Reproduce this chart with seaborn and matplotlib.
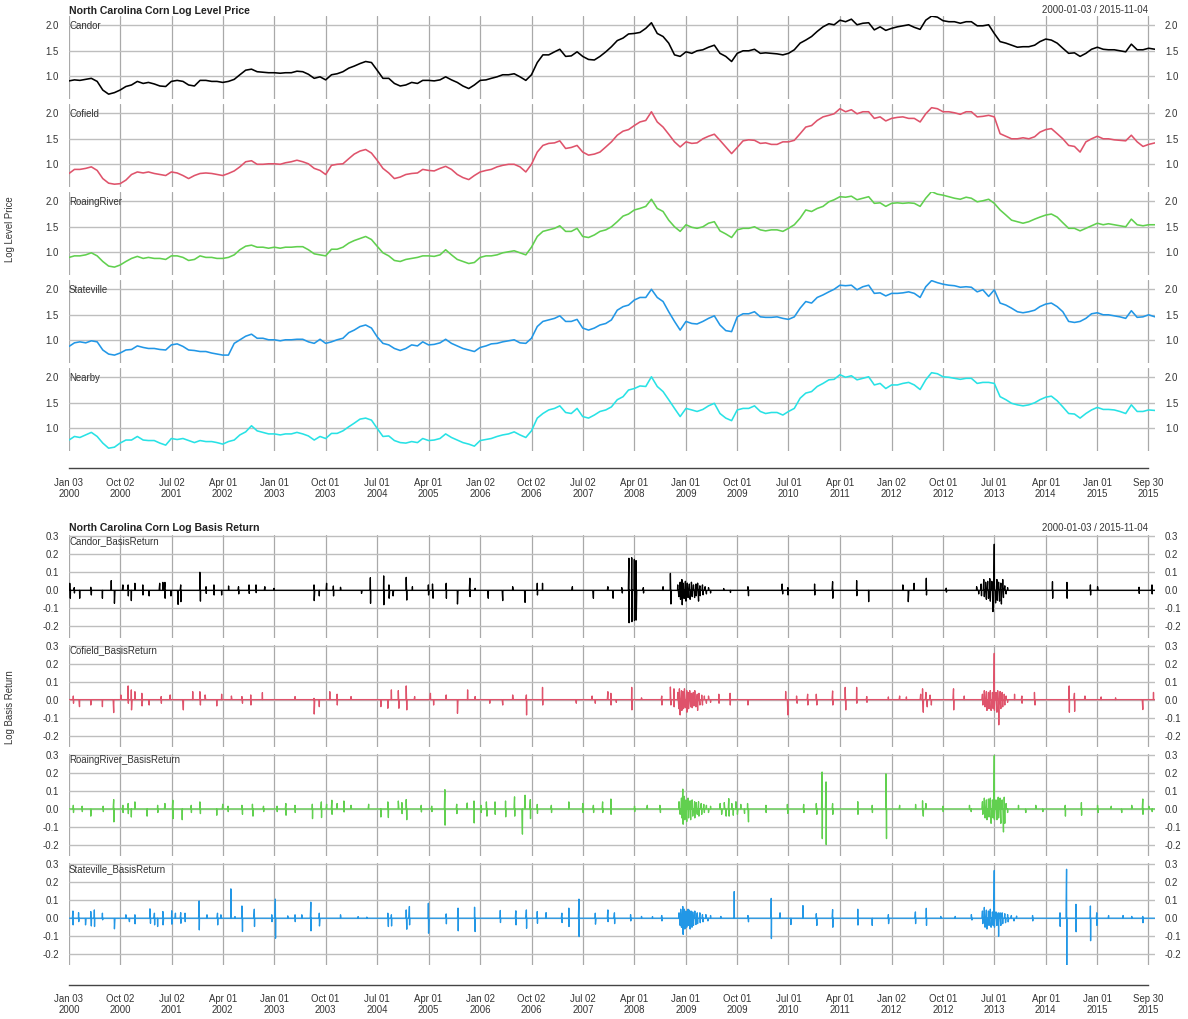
import numpy as np
import pandas as pd
import matplotlib
matplotlib.use("Agg")
import matplotlib.pyplot as plt
import matplotlib.dates as mdates
import seaborn as sns

sns.set_style("white")
plt.rcParams['font.family'] = ['Liberation Sans', 'DejaVu Sans']

# ---------------------------------------------------------------- data
top_title = "North Carolina Corn Log Level Price"
bottom_title = "North Carolina Corn Log Basis Return"
range_text = "2000-01-03 / 2015-11-04"
top_ylabel = "Log Level Price"
bottom_ylabel = "Log Basis Return"

level_names = ["Candor", "Cofield", "RoaingRiver", "Stateville", "Nearby"]
return_names = ["Candor_BasisReturn", "Cofield_BasisReturn",
                "RoaingRiver_BasisReturn", "Stateville_BasisReturn"]
series_colors = ["black", "#DF536B", "#61D04F", "#2297E6", "#28E2E5"]

# monthly observations (first trading day 2000-01-03 ... 2015-10, then 2015-11-04)
level_dates = (["2000-01-03"]
               + [d.strftime("%Y-%m-%d") for d in pd.date_range("2000-02-01", "2015-10-01", freq="MS")]
               + ["2015-11-04"])

candor = [
    0.91, 0.93, 0.92, 0.94, 0.96, 0.90, 0.73, 0.65, 0.68, 0.73, 0.80, 0.83,
    0.90, 0.86, 0.88, 0.85, 0.81, 0.80, 0.90, 0.92, 0.90, 0.83, 0.81, 0.92,
    0.92, 0.90, 0.90, 0.88, 0.90, 0.94, 1.03, 1.12, 1.14, 1.09, 1.08, 1.07,
    1.07, 1.06, 1.07, 1.07, 1.10, 1.09, 1.04, 0.96, 0.99, 0.93, 1.03, 1.05,
    1.09, 1.16, 1.20, 1.25, 1.29, 1.27, 1.12, 0.96, 0.96, 0.86, 0.81, 0.83,
    0.88, 0.86, 0.92, 0.92, 0.91, 0.93, 0.99, 0.93, 0.88, 0.81, 0.76, 0.83,
    0.92, 0.93, 0.96, 0.99, 1.03, 1.03, 1.05, 0.99, 0.92, 1.03, 1.27, 1.42,
    1.42, 1.48, 1.53, 1.39, 1.40, 1.48, 1.39, 1.33, 1.32, 1.39, 1.48, 1.58,
    1.70, 1.75, 1.83, 1.84, 1.86, 1.94, 2.05, 1.84, 1.78, 1.65, 1.42, 1.39,
    1.48, 1.45, 1.50, 1.52, 1.57, 1.61, 1.45, 1.39, 1.29, 1.45, 1.50, 1.50,
    1.53, 1.45, 1.46, 1.45, 1.44, 1.42, 1.45, 1.52, 1.65, 1.71, 1.78, 1.88,
    1.97, 2.03, 2.01, 2.10, 2.07, 2.12, 2.01, 2.04, 2.05, 1.91, 1.97, 1.90,
    1.94, 1.97, 1.99, 2.01, 1.96, 1.92, 2.10, 2.18, 2.16, 2.09, 2.07, 2.07,
    2.04, 2.07, 2.07, 1.99, 1.99, 2.01, 1.84, 1.68, 1.65, 1.61, 1.57, 1.58,
    1.58, 1.61, 1.68, 1.73, 1.71, 1.65, 1.55, 1.45, 1.46, 1.39, 1.45, 1.53,
    1.57, 1.53, 1.52, 1.52, 1.50, 1.48, 1.63, 1.52, 1.52, 1.55, 1.53]

cofield = [
    0.82, 0.90, 0.90, 0.92, 0.95, 0.88, 0.72, 0.63, 0.61, 0.62, 0.69, 0.80,
    0.85, 0.83, 0.85, 0.82, 0.80, 0.78, 0.85, 0.83, 0.78, 0.72, 0.78, 0.82,
    0.83, 0.82, 0.80, 0.78, 0.82, 0.87, 0.95, 1.05, 1.07, 1.00, 1.00, 1.01,
    1.01, 1.00, 1.03, 1.05, 1.08, 1.05, 1.01, 0.92, 0.88, 0.80, 0.98, 1.00,
    1.01, 1.11, 1.20, 1.26, 1.29, 1.22, 1.08, 0.92, 0.83, 0.72, 0.75, 0.80,
    0.82, 0.83, 0.90, 0.88, 0.87, 0.92, 0.96, 0.90, 0.80, 0.74, 0.70, 0.78,
    0.85, 0.88, 0.90, 0.95, 0.98, 1.00, 1.00, 0.95, 0.85, 1.00, 1.24, 1.37,
    1.41, 1.42, 1.46, 1.31, 1.33, 1.37, 1.24, 1.18, 1.20, 1.24, 1.34, 1.44,
    1.57, 1.65, 1.68, 1.76, 1.83, 1.86, 2.03, 1.83, 1.73, 1.59, 1.44, 1.34,
    1.44, 1.41, 1.42, 1.50, 1.55, 1.59, 1.47, 1.34, 1.21, 1.33, 1.46, 1.48,
    1.47, 1.41, 1.42, 1.39, 1.39, 1.44, 1.44, 1.47, 1.60, 1.73, 1.76, 1.86,
    1.93, 1.96, 1.99, 2.09, 2.03, 2.07, 1.99, 2.03, 2.03, 1.90, 1.93, 1.85,
    1.90, 1.92, 1.93, 1.90, 1.90, 1.83, 1.99, 2.11, 2.09, 2.03, 2.03, 2.01,
    1.98, 2.03, 2.03, 1.93, 1.94, 1.96, 1.93, 1.60, 1.55, 1.50, 1.50, 1.52,
    1.50, 1.54, 1.63, 1.68, 1.70, 1.60, 1.50, 1.37, 1.35, 1.24, 1.44, 1.50,
    1.55, 1.50, 1.50, 1.48, 1.47, 1.46, 1.57, 1.44, 1.35, 1.39, 1.42]

roaingriver = [
    0.90, 0.93, 0.93, 0.95, 0.99, 0.93, 0.82, 0.73, 0.71, 0.75, 0.82, 0.88,
    0.92, 0.88, 0.90, 0.88, 0.88, 0.86, 0.93, 0.93, 0.90, 0.84, 0.86, 0.93,
    0.90, 0.90, 0.88, 0.88, 0.90, 0.95, 1.05, 1.12, 1.14, 1.10, 1.10, 1.08,
    1.10, 1.08, 1.10, 1.10, 1.11, 1.11, 1.05, 0.97, 0.95, 0.93, 1.06, 1.06,
    1.10, 1.18, 1.23, 1.27, 1.31, 1.25, 1.12, 0.99, 0.93, 0.84, 0.82, 0.86,
    0.88, 0.90, 0.93, 0.93, 0.92, 0.95, 1.05, 0.95, 0.86, 0.82, 0.78, 0.80,
    0.90, 0.93, 0.93, 0.95, 0.99, 1.01, 1.03, 0.99, 0.95, 1.10, 1.31, 1.41,
    1.44, 1.47, 1.52, 1.41, 1.41, 1.47, 1.31, 1.29, 1.34, 1.41, 1.44, 1.50,
    1.60, 1.71, 1.75, 1.83, 1.86, 1.90, 2.04, 1.86, 1.80, 1.63, 1.50, 1.41,
    1.54, 1.49, 1.47, 1.50, 1.57, 1.60, 1.42, 1.36, 1.29, 1.44, 1.47, 1.47,
    1.50, 1.44, 1.42, 1.44, 1.44, 1.41, 1.47, 1.54, 1.67, 1.83, 1.80, 1.86,
    1.90, 1.99, 2.03, 2.09, 2.08, 2.10, 2.03, 2.06, 2.09, 1.96, 1.97, 1.90,
    1.96, 1.97, 1.96, 1.97, 1.96, 1.90, 2.06, 2.19, 2.14, 2.12, 2.09, 2.06,
    2.04, 2.08, 2.06, 1.99, 2.01, 2.04, 1.96, 1.83, 1.73, 1.63, 1.60, 1.57,
    1.60, 1.65, 1.69, 1.73, 1.75, 1.69, 1.58, 1.47, 1.47, 1.42, 1.47, 1.52,
    1.57, 1.54, 1.56, 1.54, 1.52, 1.50, 1.65, 1.54, 1.52, 1.54, 1.54]

stateville = [
    0.88, 0.95, 0.97, 0.95, 0.99, 0.97, 0.81, 0.73, 0.71, 0.75, 0.81, 0.82,
    0.89, 0.86, 0.84, 0.84, 0.82, 0.81, 0.91, 0.93, 0.88, 0.81, 0.80, 0.78,
    0.78, 0.75, 0.73, 0.71, 0.71, 0.94, 1.01, 1.08, 1.12, 1.04, 1.04, 1.01,
    1.01, 0.99, 1.01, 1.01, 1.02, 1.02, 0.97, 0.94, 1.02, 0.94, 0.97, 1.01,
    1.04, 1.15, 1.20, 1.27, 1.30, 1.24, 1.07, 0.94, 0.91, 0.84, 0.80, 0.84,
    0.91, 0.89, 0.97, 0.91, 0.92, 0.95, 1.02, 0.94, 0.89, 0.84, 0.81, 0.78,
    0.86, 0.89, 0.93, 0.94, 0.97, 0.99, 1.01, 0.95, 0.94, 1.04, 1.27, 1.37,
    1.40, 1.43, 1.48, 1.37, 1.37, 1.41, 1.24, 1.20, 1.24, 1.30, 1.33, 1.40,
    1.59, 1.66, 1.69, 1.79, 1.84, 1.84, 2.00, 1.84, 1.76, 1.56, 1.37, 1.20,
    1.37, 1.33, 1.32, 1.37, 1.43, 1.48, 1.30, 1.19, 1.17, 1.46, 1.52, 1.52,
    1.56, 1.46, 1.45, 1.45, 1.46, 1.43, 1.41, 1.46, 1.63, 1.76, 1.73, 1.84,
    1.89, 1.95, 2.00, 2.08, 2.07, 2.08, 1.99, 2.05, 2.08, 1.92, 1.93, 1.87,
    1.92, 1.92, 1.93, 1.95, 1.92, 1.84, 2.05, 2.17, 2.13, 2.10, 2.08, 2.07,
    2.04, 2.05, 2.04, 1.95, 1.99, 1.86, 1.99, 1.73, 1.69, 1.63, 1.56, 1.54,
    1.56, 1.59, 1.66, 1.71, 1.73, 1.66, 1.56, 1.37, 1.35, 1.37, 1.43, 1.52,
    1.54, 1.50, 1.50, 1.48, 1.46, 1.43, 1.58, 1.45, 1.46, 1.50, 1.46]

nearby = [
    0.77, 0.84, 0.82, 0.87, 0.92, 0.84, 0.71, 0.61, 0.63, 0.71, 0.77, 0.77,
    0.84, 0.77, 0.76, 0.76, 0.71, 0.67, 0.80, 0.78, 0.80, 0.76, 0.72, 0.76,
    0.74, 0.74, 0.72, 0.69, 0.74, 0.77, 0.87, 0.93, 1.05, 0.95, 0.92, 0.89,
    0.89, 0.87, 0.89, 0.89, 0.92, 0.89, 0.85, 0.77, 0.84, 0.80, 0.90, 0.90,
    0.95, 1.03, 1.10, 1.18, 1.20, 1.16, 1.00, 0.84, 0.85, 0.76, 0.72, 0.71,
    0.74, 0.72, 0.80, 0.76, 0.77, 0.80, 0.89, 0.82, 0.77, 0.72, 0.69, 0.65,
    0.76, 0.78, 0.80, 0.84, 0.87, 0.89, 0.93, 0.87, 0.82, 0.95, 1.20, 1.29,
    1.36, 1.39, 1.44, 1.31, 1.29, 1.39, 1.23, 1.20, 1.26, 1.33, 1.36, 1.42,
    1.56, 1.62, 1.75, 1.78, 1.83, 1.82, 2.01, 1.82, 1.72, 1.56, 1.39, 1.23,
    1.39, 1.36, 1.33, 1.37, 1.44, 1.49, 1.29, 1.20, 1.15, 1.36, 1.39, 1.39,
    1.44, 1.33, 1.29, 1.31, 1.31, 1.26, 1.33, 1.39, 1.59, 1.69, 1.72, 1.82,
    1.88, 1.95, 1.96, 2.05, 2.00, 2.03, 1.95, 1.98, 2.01, 1.85, 1.88, 1.78,
    1.85, 1.85, 1.88, 1.90, 1.85, 1.76, 1.95, 2.09, 2.07, 2.01, 2.00, 1.98,
    1.96, 1.98, 1.98, 1.88, 1.90, 1.90, 1.88, 1.62, 1.56, 1.49, 1.46, 1.44,
    1.46, 1.50, 1.56, 1.61, 1.63, 1.54, 1.42, 1.29, 1.28, 1.20, 1.29, 1.36,
    1.41, 1.37, 1.37, 1.36, 1.33, 1.29, 1.46, 1.33, 1.33, 1.36, 1.35]

# basis returns: zero on ordinary days; non-zero days given as (decimal year, return)
candor_ret = [
    (2000.015, 0.039), (2000.015, -0.044), (2000.077, 0.015), (2000.077, -0.015),
    (2000.159, -0.044), (2000.323, 0.017), (2000.323, -0.026), (2000.492, -0.044),
    (2000.620, 0.054), (2000.666, -0.072), (2000.784, 0.030), (2000.861, 0.030),
    (2000.861, -0.031), (2000.912, -0.057), (2000.964, 0.039), (2001.081, 0.030),
    (2001.081, -0.026), (2001.168, -0.031), (2001.322, 0.039), (2001.373, 0.044),
    (2001.399, 0.044), (2001.399, -0.044), (2001.491, -0.031), (2001.589, -0.078),
    (2001.630, 0.030), (2001.630, -0.063), (2001.912, 0.100), (2001.912, -0.060),
    (2002.004, 0.020), (2002.004, -0.017), (2002.117, 0.030), (2002.117, -0.026),
    (2002.229, -0.026), (2002.332, 0.024), (2002.475, 0.020), (2002.475, -0.020),
    (2002.629, 0.030), (2002.629, -0.017), (2002.732, 0.030), (2002.732, -0.013),
    (2002.860, 0.020), (2002.988, 0.011), (2003.577, 0.030), (2003.577, -0.057),
    (2003.654, -0.031), (2003.757, 0.039), (2003.859, 0.024), (2003.859, -0.031),
    (2003.962, 0.017), (2004.269, -0.017), (2004.397, 0.070), (2004.397, -0.072),
    (2004.592, 0.080), (2004.592, -0.080), (2004.669, 0.030), (2004.669, -0.044),
    (2004.730, -0.031), (2004.920, 0.072), (2004.920, -0.054), (2005.012, 0.020),
    (2005.243, 0.030), (2005.243, -0.026), (2005.304, 0.035), (2005.304, -0.044),
    (2005.499, 0.039), (2005.499, -0.044), (2005.668, -0.076), (2005.848, 0.067),
    (2005.848, -0.035), (2005.924, 0.011), (2006.114, -0.044), (2006.329, -0.057),
    (2006.473, 0.020), (2006.652, -0.067), (2006.832, 0.039), (2006.832, -0.026),
    (2006.908, 0.039), (2007.344, 0.020), (2007.652, -0.044), (2007.857, 0.020),
    (2007.932, -0.044), (2008.063, 0.015), (2008.063, -0.015),
    (2008.168, 0.178), (2008.168, -0.180), (2008.210, 0.181), (2008.210, -0.174),
    (2008.247, 0.172), (2008.247, -0.168), (2008.273, 0.165), (2008.273, -0.165),
    (2008.378, 0.015), (2008.378, -0.015), (2008.668, 0.020),
    (2008.773, 0.094), (2008.773, -0.076),
    (2008.88, 0.030), (2008.89, -0.035), (2008.91, 0.045), (2008.92, -0.050),
    (2008.94, 0.060), (2008.945, -0.080), (2008.96, 0.040), (2008.97, -0.045),
    (2008.99, 0.050), (2009.00, -0.060), (2009.02, 0.040), (2009.03, -0.040),
    (2009.05, 0.035), (2009.06, -0.050), (2009.08, 0.045), (2009.09, -0.035),
    (2009.11, 0.030), (2009.12, -0.040), (2009.14, 0.035), (2009.15, -0.030),
    (2009.17, 0.040), (2009.18, -0.060), (2009.20, 0.025), (2009.21, -0.030),
    (2009.24, 0.030), (2009.25, -0.025), (2009.28, 0.020), (2009.30, -0.020),
    (2009.33, 0.015), (2009.36, -0.015),
    (2009.55, 0.010), (2009.65, -0.012), (2009.903, 0.020), (2009.903, -0.030),
    (2010.402, 0.035), (2010.402, -0.020), (2010.481, 0.015), (2010.481, -0.026),
    (2010.875, 0.035), (2010.875, -0.026), (2011.138, 0.048), (2011.138, -0.044),
    (2011.490, 0.054), (2011.490, -0.030), (2011.664, -0.063), (2012.163, 0.030),
    (2012.242, -0.063), (2012.321, 0.039), (2012.505, 0.067), (2012.505, -0.026),
    (2012.794, 0.012), (2012.794, -0.010),
    (2013.24, 0.020), (2013.27, -0.020), (2013.30, 0.035), (2013.31, -0.030),
    (2013.34, 0.060), (2013.35, -0.035), (2013.37, 0.045), (2013.38, -0.050),
    (2013.40, 0.050), (2013.41, -0.045), (2013.43, 0.065), (2013.44, -0.060),
    (2013.46, 0.050), (2013.478, -0.118), (2013.494, 0.256), (2013.51, -0.070),
    (2013.53, 0.060), (2013.54, -0.055), (2013.56, 0.045), (2013.57, -0.060),
    (2013.59, 0.040), (2013.60, -0.076), (2013.62, 0.060), (2013.63, -0.040),
    (2013.65, 0.025), (2013.67, -0.020), (2013.69, 0.015),
    (2014.345, 0.048), (2014.345, -0.044), (2014.555, 0.044), (2014.555, -0.044),
    (2014.897, 0.030), (2014.897, -0.026), (2015.002, 0.020),
    (2015.607, 0.017), (2015.607, -0.017), (2015.791, 0.030), (2015.791, -0.020)]

cofield_ret = [
    (2000.067, 0.020), (2000.067, -0.020), (2000.154, -0.039), (2000.323, -0.030),
    (2000.492, -0.039), (2000.656, -0.072), (2000.759, 0.026), (2000.861, 0.076),
    (2000.861, -0.020), (2000.912, 0.054), (2000.912, -0.057), (2000.964, 0.044),
    (2001.066, 0.035), (2001.066, -0.035), (2001.168, -0.030), (2001.348, 0.017),
    (2001.348, -0.020), (2001.476, 0.026), (2001.671, -0.057), (2001.809, 0.044),
    (2001.912, 0.044), (2001.912, -0.030), (2001.989, 0.026), (2002.158, -0.035),
    (2002.229, 0.030), (2002.373, 0.020), (2002.527, 0.017), (2002.527, -0.020),
    (2002.655, 0.026), (2002.655, -0.030), (2002.824, 0.039), (2003.295, 0.017),
    (2003.577, 0.007), (2003.577, -0.080), (2003.654, -0.039), (2003.808, 0.044),
    (2003.910, 0.030), (2003.910, -0.030), (2004.115, 0.017), (2004.551, -0.039),
    (2004.653, -0.048), (2004.705, 0.054), (2004.807, 0.050), (2004.807, -0.048),
    (2004.920, 0.076), (2004.920, -0.057), (2005.038, 0.017), (2005.269, 0.035),
    (2005.320, -0.030), (2005.499, 0.026), (2005.668, -0.076), (2005.817, 0.054),
    (2005.924, 0.017), (2006.140, -0.020), (2006.329, -0.030), (2006.473, 0.026),
    (2006.668, 0.026), (2006.668, -0.085), (2006.908, 0.068), (2006.908, -0.030),
    (2007.395, -0.020), (2007.626, 0.020), (2007.677, -0.020), (2007.857, 0.044),
    (2007.905, 0.035), (2007.905, -0.030), (2007.984, -0.015),
    (2008.210, 0.068), (2008.210, -0.057), (2008.352, 0.010),
    (2008.641, 0.020), (2008.641, -0.030), (2008.773, 0.070), (2008.773, -0.030),
    (2008.825, 0.060), (2008.825, -0.040),
    (2008.88, 0.040), (2008.89, -0.050), (2008.905, 0.060), (2008.915, -0.085),
    (2008.93, 0.050), (2008.94, -0.060), (2008.955, 0.045), (2008.965, -0.050),
    (2008.98, 0.060), (2008.99, -0.045), (2009.005, 0.050), (2009.015, -0.070),
    (2009.03, 0.040), (2009.04, -0.050), (2009.055, 0.050), (2009.065, -0.040),
    (2009.08, 0.035), (2009.09, -0.045), (2009.105, 0.040), (2009.115, -0.035),
    (2009.13, 0.050), (2009.14, -0.040), (2009.16, 0.030), (2009.17, -0.060),
    (2009.19, 0.035), (2009.20, -0.030), (2009.23, 0.025), (2009.24, -0.030),
    (2009.27, 0.020), (2009.30, -0.020), (2009.33, 0.020), (2009.36, -0.015),
    (2009.48, 0.030), (2009.48, -0.020), (2009.64, 0.035), (2009.64, -0.030),
    (2009.903, -0.030), (2010.455, 0.045), (2010.481, -0.085),
    (2010.613, 0.020), (2010.613, -0.020), (2010.77, 0.030), (2010.77, -0.030),
    (2010.902, 0.030), (2010.902, -0.030), (2011.138, 0.048), (2011.138, -0.030),
    (2011.322, 0.068), (2011.322, -0.057), (2011.490, 0.068), (2011.490, -0.020),
    (2011.638, 0.017), (2011.638, -0.015), (2011.953, 0.015), (2012.111, 0.020),
    (2012.216, 0.015), (2012.42, 0.030), (2012.45, 0.060), (2012.46, -0.070),
    (2012.50, 0.040), (2012.52, -0.040), (2012.56, 0.025), (2012.58, -0.030),
    (2012.90, 0.060), (2012.90, -0.057), (2013.057, 0.020),
    (2013.32, 0.030), (2013.33, -0.030), (2013.35, 0.050), (2013.36, -0.040),
    (2013.38, 0.045), (2013.39, -0.060), (2013.41, 0.040), (2013.42, -0.050),
    (2013.44, 0.050), (2013.45, -0.060), (2013.47, 0.040), (2013.48, -0.050),
    (2013.494, 0.257), (2013.50, -0.060), (2013.52, 0.040), (2013.53, -0.070),
    (2013.545, 0.050), (2013.562, -0.140), (2013.58, 0.045), (2013.59, -0.050),
    (2013.61, 0.040), (2013.62, -0.040), (2013.64, 0.030), (2013.65, -0.030),
    (2013.67, 0.020), (2013.69, -0.015),
    (2013.793, 0.030), (2013.898, 0.020), (2013.898, -0.020), (2014.082, 0.040),
    (2014.082, -0.030), (2014.582, 0.076), (2014.582, -0.070), (2014.66, 0.035),
    (2014.66, -0.065), (2014.818, 0.020), (2015.055, 0.015), (2015.265, 0.010),
    (2015.659, -0.055), (2015.817, 0.040)]

roaingriver_ret = [
    (2000.067, 0.020), (2000.067, -0.020), (2000.195, 0.015), (2000.195, -0.015),
    (2000.323, -0.040), (2000.502, 0.015), (2000.502, -0.015), (2000.656, 0.052),
    (2000.656, -0.072), (2000.784, 0.020), (2000.784, -0.020), (2000.861, 0.030),
    (2000.861, -0.026), (2000.912, -0.045), (2000.964, 0.039), (2001.143, -0.040),
    (2001.297, 0.020), (2001.297, -0.020), (2001.399, 0.030), (2001.512, 0.048),
    (2001.512, -0.054), (2001.655, -0.060), (2001.784, 0.020), (2001.784, -0.020),
    (2001.912, 0.039), (2001.912, -0.026), (2002.158, -0.035), (2002.245, 0.026),
    (2002.322, 0.015), (2002.322, -0.015), (2002.527, 0.020), (2002.527, -0.030),
    (2002.680, 0.026), (2002.680, -0.040), (2002.834, 0.015), (2002.834, -0.015),
    (2003.039, 0.015), (2003.039, -0.015), (2003.167, 0.030), (2003.167, -0.035),
    (2003.295, 0.020), (2003.295, -0.020), (2003.552, 0.026), (2003.552, -0.054),
    (2003.680, 0.039), (2003.680, -0.048), (2003.757, 0.026), (2003.834, 0.048),
    (2003.834, -0.030), (2003.910, 0.030), (2004.013, 0.044), (2004.013, -0.017),
    (2004.115, 0.020), (2004.372, 0.026), (2004.551, -0.045), (2004.653, 0.039),
    (2004.653, -0.048), (2004.807, 0.044), (2004.859, 0.035), (2004.859, -0.026),
    (2004.920, 0.052), (2004.920, -0.060), (2005.140, 0.020), (2005.140, -0.017),
    (2005.294, 0.015), (2005.294, -0.015), (2005.484, 0.107), (2005.484, -0.090),
    (2005.653, 0.026), (2005.653, -0.026), (2005.807, 0.033), (2005.909, 0.044),
    (2005.909, -0.078), (2006.012, 0.020), (2006.012, -0.020), (2006.089, 0.039),
    (2006.089, -0.040), (2006.217, 0.039), (2006.217, -0.030), (2006.370, 0.044),
    (2006.370, -0.044), (2006.499, 0.067), (2006.499, -0.040), (2006.617, -0.140),
    (2006.652, 0.076), (2006.729, 0.052), (2006.729, -0.054), (2006.832, 0.025),
    (2006.832, -0.025), (2007.037, 0.020), (2007.037, -0.020), (2007.293, 0.039),
    (2007.498, 0.030), (2007.498, -0.020), (2007.652, 0.020), (2007.652, -0.020),
    (2007.780, 0.039), (2007.780, -0.020), (2007.905, 0.055), (2007.905, -0.030),
    (2008.25, 0.015), (2008.25, -0.015), (2008.43, 0.020), (2008.62, 0.020),
    (2008.62, -0.020),
    (2008.90, 0.040), (2008.91, -0.030), (2008.93, 0.060), (2008.94, -0.050),
    (2008.95, 0.110), (2008.96, -0.085), (2008.975, 0.070), (2008.985, -0.060),
    (2009.00, 0.050), (2009.01, -0.070), (2009.03, 0.060), (2009.04, -0.050),
    (2009.06, 0.045), (2009.07, -0.060), (2009.09, 0.050), (2009.10, -0.040),
    (2009.12, 0.040), (2009.13, -0.050), (2009.15, 0.035), (2009.16, -0.030),
    (2009.18, 0.040), (2009.19, -0.040), (2009.22, 0.030), (2009.23, -0.030),
    (2009.26, 0.025), (2009.27, -0.020), (2009.30, 0.020), (2009.33, -0.020),
    (2009.36, 0.015),
    (2009.50, 0.030), (2009.52, -0.030), (2009.56, 0.035), (2009.58, -0.040),
    (2009.62, 0.057), (2009.63, -0.040), (2009.67, 0.030), (2009.69, -0.035),
    (2009.73, 0.040), (2009.75, -0.030), (2009.80, 0.025), (2009.85, -0.025),
    (2009.90, 0.030), (2009.91, -0.072),
    (2010.166, 0.020), (2010.166, -0.020), (2010.48, 0.025), (2010.48, -0.025),
    (2010.718, 0.025), (2010.718, -0.020), (2010.902, 0.030), (2010.902, -0.030),
    (2010.981, 0.205), (2010.981, -0.165), (2011.044, 0.150), (2011.044, -0.198),
    (2011.138, 0.030), (2011.138, -0.030), (2011.506, 0.040), (2011.506, -0.030),
    (2011.716, 0.020), (2011.716, -0.020), (2011.916, 0.195), (2011.916, -0.165),
    (2012.111, 0.020), (2012.35, 0.025), (2012.45, 0.045), (2012.46, -0.040),
    (2012.50, 0.030), (2012.742, 0.015), (2012.742, -0.015), (2013.136, 0.020),
    (2013.16, -0.015),
    (2013.32, 0.040), (2013.33, -0.030), (2013.35, 0.060), (2013.36, -0.050),
    (2013.38, 0.050), (2013.39, -0.060), (2013.41, 0.055), (2013.42, -0.045),
    (2013.44, 0.060), (2013.45, -0.080), (2013.47, 0.050), (2013.48, -0.050),
    (2013.494, 0.296), (2013.50, -0.060), (2013.52, 0.050), (2013.53, -0.060),
    (2013.55, 0.065), (2013.56, -0.050), (2013.58, 0.060), (2013.59, -0.080),
    (2013.61, 0.050), (2013.625, -0.128), (2013.64, 0.065), (2013.65, -0.080),
    (2013.67, 0.030), (2013.69, -0.020),
    (2013.85, 0.020), (2013.95, -0.020), (2014.10, 0.020), (2014.20, -0.015),
    (2014.53, 0.020), (2014.53, -0.040), (2014.767, 0.035), (2014.767, -0.035),
    (2015.002, 0.020), (2015.002, -0.020), (2015.20, 0.015), (2015.35, -0.020),
    (2015.50, 0.020), (2015.659, 0.055), (2015.659, -0.030), (2015.75, 0.015),
    (2015.80, -0.015)]

stateville_ret = [
    (2000.056, 0.040), (2000.056, -0.037), (2000.144, 0.031), (2000.144, -0.019),
    (2000.246, -0.037), (2000.323, 0.037), (2000.323, -0.043), (2000.374, 0.046),
    (2000.374, -0.046), (2000.492, 0.028), (2000.492, -0.009), (2000.666, -0.059),
    (2000.835, 0.019), (2000.887, -0.019), (2000.964, 0.019), (2000.964, -0.031),
    (2001.184, 0.052), (2001.184, -0.028), (2001.245, 0.028), (2001.245, -0.037),
    (2001.297, -0.046), (2001.373, 0.037), (2001.373, -0.037), (2001.502, 0.041),
    (2001.502, -0.033), (2001.553, 0.028), (2001.630, 0.031), (2001.630, -0.028),
    (2001.696, 0.028), (2001.696, -0.019), (2001.901, 0.096), (2001.901, -0.065),
    (2002.014, 0.019), (2002.168, 0.028), (2002.168, -0.037), (2002.219, 0.019),
    (2002.363, 0.163), (2002.424, 0.009), (2002.527, 0.068), (2002.527, -0.074),
    (2002.706, 0.050), (2002.706, -0.046), (2002.962, 0.019), (2002.962, -0.019),
    (2003.013, 0.106), (2003.013, -0.111), (2003.193, 0.013), (2003.295, 0.019),
    (2003.295, -0.019), (2003.398, 0.019), (2003.526, 0.089), (2003.526, -0.070),
    (2003.654, 0.028), (2003.654, -0.043), (2003.962, 0.019), (2004.218, 0.009),
    (2004.346, 0.006), (2004.653, 0.028), (2004.653, -0.046), (2004.705, 0.019),
    (2004.705, -0.043), (2004.920, 0.046), (2004.920, -0.061), (2004.961, 0.065),
    (2004.961, -0.037), (2005.243, 0.083), (2005.243, -0.083), (2005.499, 0.024),
    (2005.499, -0.031), (2005.678, 0.056), (2005.678, -0.070), (2005.919, 0.061),
    (2005.919, -0.074), (2006.293, 0.043), (2006.293, -0.024), (2006.514, 0.041),
    (2006.514, -0.037), (2006.668, 0.046), (2006.668, -0.056), (2006.832, 0.037),
    (2006.832, -0.028), (2006.960, 0.031), (2007.190, 0.028), (2007.190, -0.024),
    (2007.293, 0.056), (2007.293, -0.046), (2007.436, 0.106), (2007.436, -0.102),
    (2007.677, 0.028), (2007.677, -0.033), (2007.857, 0.046), (2007.857, -0.019),
    (2007.958, 0.030), (2007.958, -0.030), (2008.194, 0.020), (2008.194, -0.015),
    (2008.352, 0.010), (2008.510, 0.009), (2008.641, 0.015), (2008.641, -0.015),
    (2008.90, 0.030), (2008.91, -0.040), (2008.925, 0.050), (2008.935, -0.050),
    (2008.95, 0.065), (2008.96, -0.090), (2008.975, 0.050), (2008.985, -0.060),
    (2009.00, 0.040), (2009.01, -0.050), (2009.025, 0.050), (2009.035, -0.040),
    (2009.05, 0.045), (2009.06, -0.060), (2009.075, 0.040), (2009.085, -0.050),
    (2009.10, 0.035), (2009.11, -0.040), (2009.13, 0.040), (2009.14, -0.035),
    (2009.16, 0.030), (2009.17, -0.030), (2009.20, 0.030), (2009.21, -0.025),
    (2009.24, 0.020), (2009.25, -0.020), (2009.29, 0.020), (2009.32, -0.015),
    (2009.36, 0.015),
    (2009.509, 0.010), (2009.703, 0.148), (2009.903, 0.015), (2009.903, -0.020),
    (2010.245, 0.110), (2010.245, -0.113), (2010.37, 0.030), (2010.53, -0.035),
    (2010.707, 0.070), (2010.902, 0.025), (2010.902, -0.040), (2011.138, 0.048),
    (2011.138, -0.050), (2011.506, 0.050), (2011.506, -0.038), (2011.716, -0.040),
    (2011.953, 0.020), (2011.953, -0.030), (2012.347, 0.035), (2012.347, -0.030),
    (2012.505, 0.055), (2012.505, -0.040), (2012.715, 0.010), (2012.926, 0.010),
    (2013.162, 0.020), (2013.162, -0.010),
    (2013.32, 0.040), (2013.33, -0.030), (2013.35, 0.060), (2013.36, -0.050),
    (2013.38, 0.045), (2013.39, -0.060), (2013.41, 0.040), (2013.42, -0.040),
    (2013.44, 0.050), (2013.45, -0.050), (2013.47, 0.035), (2013.48, -0.040),
    (2013.494, 0.265), (2013.50, -0.050), (2013.52, 0.035), (2013.53, -0.040),
    (2013.55, 0.030), (2013.56, -0.100), (2013.58, 0.030), (2013.59, -0.040),
    (2013.61, 0.030), (2013.62, -0.030), (2013.65, 0.025), (2013.66, -0.025),
    (2013.69, 0.020), (2013.70, -0.020), (2013.74, 0.015), (2013.78, -0.015),
    (2013.82, 0.012),
    (2014.056, 0.015), (2014.056, -0.015), (2014.450, 0.030), (2014.450, -0.045),
    (2014.545, 0.272), (2014.545, -0.262), (2014.687, 0.077), (2014.687, -0.075),
    (2014.897, 0.068), (2014.897, -0.125), (2014.992, 0.030), (2014.992, -0.040),
    (2015.160, 0.015), (2015.370, 0.015), (2015.501, 0.010), (2015.659, 0.010),
    (2015.659, -0.025)]

tick_dates = ["2000-01-03", "2000-10-02", "2001-07-02", "2002-04-01", "2003-01-01",
              "2003-10-01", "2004-07-01", "2005-04-01", "2006-01-02", "2006-10-02",
              "2007-07-02", "2008-04-01", "2009-01-01", "2009-10-01", "2010-07-01",
              "2011-04-01", "2012-01-02", "2012-10-01", "2013-07-01", "2014-04-01",
              "2015-01-01", "2015-09-30"]
tick_labels = ["Jan 03\n2000", "Oct 02\n2000", "Jul 02\n2001", "Apr 01\n2002",
               "Jan 01\n2003", "Oct 01\n2003", "Jul 01\n2004", "Apr 01\n2005",
               "Jan 02\n2006", "Oct 02\n2006", "Jul 02\n2007", "Apr 01\n2008",
               "Jan 01\n2009", "Oct 01\n2009", "Jul 01\n2010", "Apr 01\n2011",
               "Jan 02\n2012", "Oct 01\n2012", "Jul 01\n2013", "Apr 01\n2014",
               "Jan 01\n2015", "Sep 30\n2015"]

level_yticks = [1.0, 1.5, 2.0]
level_ylabels = ["1.0", "1.5", "2.0"]
ret_yticks = [-0.2, -0.1, 0.0, 0.1, 0.2, 0.3]
ret_ylabels = ["-0.2", "-0.1", "0.0", "0.1", "0.2", "0.3"]

# ---------------------------------------------------------------- helpers
start, end = pd.Timestamp("2000-01-03"), pd.Timestamp("2015-11-04")
bdays = pd.bdate_range(start, end)


def returns_series(spikes):
    vals = np.zeros(len(bdays))
    used = np.zeros(len(bdays), dtype=bool)
    t0 = pd.Timestamp("2000-01-01")
    for yr, v in spikes:
        d = t0 + pd.Timedelta(days=(yr - 2000.0) * 365.25)
        i = int(np.clip(bdays.searchsorted(d), 0, len(bdays) - 1))
        while used[i] and i < len(bdays) - 1:
            i += 1
        vals[i] = v
        used[i] = True
    return vals


W, H = 1188, 1019
L, R = 69, 1155
FS = 6.9
TXT = "#333333"
HGRID = "#BEBEBE"
VGRID = "#A9A9A9"
tick_ts = pd.to_datetime(tick_dates)
tick_num = mdates.date2num(tick_ts.to_pydatetime())

fig = plt.figure(figsize=(W / 100, H / 100), dpi=100)


def make_panel(top_px, bottom_px, ylim, yticks, ylabels):
    ax = fig.add_axes([L / W, 1 - bottom_px / H, (R - L) / W, (bottom_px - top_px) / H])
    ax.set_xlim(start, end)
    ax.set_ylim(*ylim)
    for d in tick_ts:
        ax.axvline(d, color=VGRID, lw=0.9, zorder=0)
    for y in yticks:
        ax.axhline(y, color=HGRID, lw=1.0, zorder=0)
    ax.set_yticks(yticks)
    ax.set_yticklabels(ylabels)
    ax.tick_params(axis="y", length=0, labelleft=True, labelright=True,
                   labelsize=FS, labelcolor=TXT, pad=7.2)
    ax.set_xticks([])
    for s in ax.spines.values():
        s.set_visible(False)
    ax.set_facecolor("none")
    return ax


def make_xaxis(y_px):
    ax = fig.add_axes([L / W, 1 - y_px / H, (R - L) / W, 0.0001])
    ax.set_xlim(start, end)
    ax.set_yticks([])
    for k in ["top", "left", "right"]:
        ax.spines[k].set_visible(False)
    ax.spines["bottom"].set_color("#444444")
    ax.spines["bottom"].set_linewidth(1.0)
    ax.spines["bottom"].set_bounds(tick_num[0], tick_num[-1])
    ax.set_xticks(tick_num)
    ax.set_xticklabels(tick_labels)
    ax.tick_params(axis="x", direction="out", length=3.6, width=1.0, color="#444444",
                   labelsize=FS, labelcolor=TXT, pad=3.2)
    for lab in ax.get_xticklabels():
        lab.set_linespacing(1.12)
    ax.set_facecolor("none")
    return ax


# ---------------------------------------------------------------- top chart
level_series = [candor, cofield, roaingriver, stateville, nearby]
level_x = pd.to_datetime(level_dates)
for i, (name, vals) in enumerate(zip(level_names, level_series)):
    top = 15.6 + 88 * i
    ax = make_panel(top, top + 83.4, (0.555, 2.19), level_yticks, level_ylabels)
    sns.lineplot(x=level_x, y=np.asarray(vals), ax=ax, color=series_colors[i],
                 linewidth=1.15, estimator=None, zorder=3)
    ax.set_xlabel("")
    ax.set_ylabel("")
    ax.text(0.0, 0.838, name, transform=ax.transAxes, ha="left", va="baseline",
            fontsize=FS, color=TXT)

make_xaxis(468.3)
fig.text(L / W, 1 - 13.8 / H, top_title, ha="left", va="baseline", fontsize=7.6,
         fontweight="bold", color="#222222")
fig.text(1148.5 / W, 1 - 13.4 / H, range_text, ha="right", va="baseline", fontsize=FS, color=TXT)
fig.text(10.5 / W, 1 - 229 / H, top_ylabel, rotation=90, ha="center", va="center",
         fontsize=FS, color=TXT)

# ---------------------------------------------------------------- bottom chart
ret_series = [candor_ret, cofield_ret, roaingriver_ret, stateville_ret]
for i, (name, spikes) in enumerate(zip(return_names, ret_series)):
    top = 535.4 + 109.3 * i
    ax = make_panel(top, top + 102.1, (-0.262, 0.305), ret_yticks, ret_ylabels)
    sns.lineplot(x=bdays, y=returns_series(spikes), ax=ax, color=series_colors[i],
                 linewidth=0.95, estimator=None, zorder=3)
    ax.set_xlabel("")
    ax.set_ylabel("")
    ax.text(0.0, 0.915, name, transform=ax.transAxes, ha="left", va="baseline",
            fontsize=FS, color=TXT)

make_xaxis(985.0)
fig.text(L / W, 1 - 531.3 / H, bottom_title, ha="left", va="baseline", fontsize=7.6,
         fontweight="bold", color="#222222")
fig.text(1148.5 / W, 1 - 530.9 / H, range_text, ha="right", va="baseline", fontsize=FS, color=TXT)
fig.text(10.5 / W, 1 - 707 / H, bottom_ylabel, rotation=90, ha="center", va="center",
         fontsize=FS, color=TXT)

fig.savefig("out.png", dpi=100, facecolor="white")
